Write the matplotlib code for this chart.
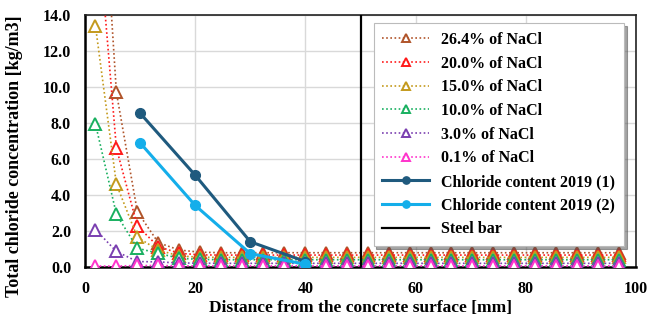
import numpy as np
import matplotlib
matplotlib.use("Agg")
import matplotlib.pyplot as plt

plt.rcParams['font.family'] = ['Liberation Serif', 'DejaVu Serif']
plt.rcParams['font.weight'] = 'bold'

# sampling positions of the simulated profiles [mm]
dist = [1.9, 5.7, 9.5, 13.3, 17.1, 20.9, 24.7, 28.5, 32.3, 36.1, 39.9, 43.7, 47.5,
        51.3, 55.1, 58.9, 62.7, 66.5, 70.3, 74.1, 77.9, 81.7, 85.5, 89.3, 93.1, 96.9]

nacl_264 = [28.0, 9.7, 3.07, 1.35, 0.94, 0.82] + [0.79] * 20
nacl_200 = [20.5, 6.6, 2.28, 1.13, 0.76, 0.67] + [0.66] * 20
nacl_150 = [13.4, 4.6, 1.65, 0.94, 0.61, 0.54] + [0.53] * 20
nacl_100 = [7.95, 2.93, 1.04, 0.76, 0.48, 0.42] + [0.40] * 20
nacl_30 = [2.08, 0.86, 0.30, 0.28, 0.22, 0.21] + [0.20] * 20
nacl_01 = [0.05, 0.05, 0.08, 0.08, 0.06, 0.06] + [0.06] * 20

meas_x = [10, 20, 30, 40]
meas_1 = [8.55, 5.1, 1.4, 0.3]
meas_2 = [6.9, 3.42, 0.74, 0.15]

steel_x = 50

series = [
    ("26.4% of NaCl", nacl_264, "#B0542A"),
    ("20.0% of NaCl", nacl_200, "#FF1A1A"),
    ("15.0% of NaCl", nacl_150, "#C49A1C"),
    ("10.0% of NaCl", nacl_100, "#19B060"),
    ("3.0% of NaCl", nacl_30, "#7A3FB0"),
    ("0.1% of NaCl", nacl_01, "#FF33CC"),
]

fig = plt.figure(figsize=(6.64, 3.22), dpi=100)
ax = fig.add_axes([0.128, 0.171, 0.83, 0.782])

for lab, vals, col in series:
    ax.plot(dist, vals, linestyle=(0, (1, 1.5)), color=col, lw=1.2, marker='^',
            markersize=8.5, markerfacecolor='white', markeredgecolor=col,
            markeredgewidth=1.4, label=lab, zorder=3)

ax.plot(meas_x, meas_1, '-', color='#1F5A7E', lw=2.2, marker='o', markersize=7,
        label="Chloride content 2019 (1)", zorder=4)
ax.plot(meas_x, meas_2, '-', color='#14AEEA', lw=2.2, marker='o', markersize=7,
        label="Chloride content 2019 (2)", zorder=5)
ax.plot([steel_x, steel_x], [0, 14], '-', color='black', lw=1.6,
        label="Steel bar", zorder=4)

ax.set_xlim(0, 100)
ax.set_ylim(0, 14)
ax.set_xticks(np.arange(0, 101, 20))
ax.set_yticks(np.arange(0, 14.1, 2))
ax.yaxis.set_major_formatter(matplotlib.ticker.FormatStrFormatter('%.1f'))
ax.tick_params(length=0, labelsize=11.5)
ax.tick_params(axis='y', pad=10)
ax.tick_params(axis='x', pad=10)
for t in ax.get_xticklabels() + ax.get_yticklabels():
    t.set_fontweight('bold')
ax.grid(True, color='#D9D9D9', lw=1)
ax.set_axisbelow(True)
for s in ax.spines.values():
    s.set_color('#222222')
    s.set_linewidth(1.2)
ax.spines['left'].set_linewidth(1.8)
ax.spines['bottom'].set_linewidth(1.8)
ax.spines['left'].set_color('black')
ax.spines['bottom'].set_color('black')

ax.set_xlabel("Distance from the concrete surface [mm]", fontsize=12.5,
              fontweight='bold')
ax.xaxis.set_label_coords(0.5, -0.13)
ax.set_ylabel("Total chloride concentration [kg/m3]", fontsize=13,
              fontweight='bold')
ax.yaxis.set_label_coords(-0.127, 0.44)
ax.yaxis.label.set_va('center')

leg = ax.legend(loc='upper right', bbox_to_anchor=(0.993, 1.0), fontsize=11.5,
                frameon=True, shadow=True, fancybox=False, handlelength=2.9,
                labelspacing=0.48, borderpad=0.55, markerscale=0.75)
leg.get_frame().set_edgecolor('#BBBBBB')
leg.get_frame().set_linewidth(0.8)
for t in leg.get_texts():
    t.set_fontweight('bold')

fig.savefig("out.png", dpi=100)
